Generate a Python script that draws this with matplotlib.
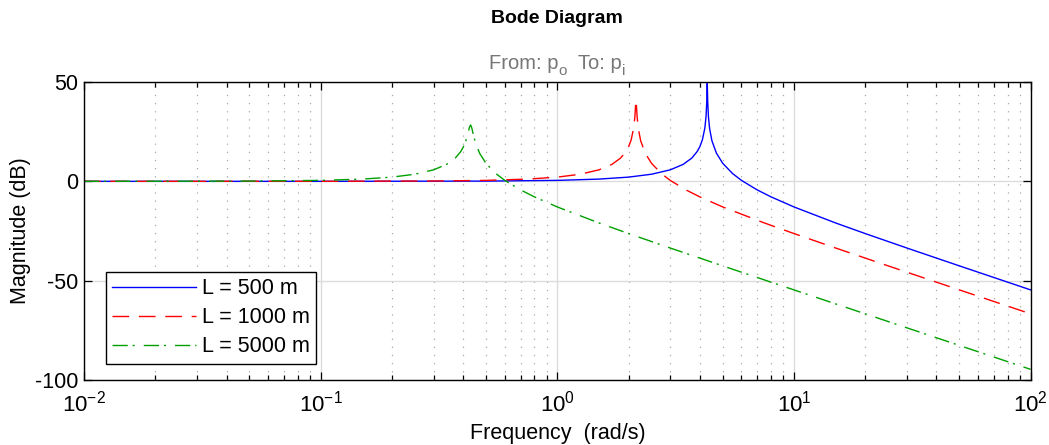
import matplotlib
matplotlib.use("Agg")
import matplotlib.pyplot as plt
from matplotlib.ticker import LogLocator, NullFormatter, FixedLocator

plt.rcParams['font.family'] = ['Liberation Sans', 'DejaVu Sans']
plt.rcParams['mathtext.fontset'] = 'custom'
plt.rcParams['mathtext.rm'] = 'Liberation Sans'
plt.rcParams['mathtext.it'] = 'Liberation Sans'
plt.rcParams['mathtext.default'] = 'regular'
plt.rcParams['axes.unicode_minus'] = False

# Magnitude response (dB) versus frequency (rad/s) for three pipe lengths
freq_500 = [0.01, 0.1, 0.5, 1, 1.5, 2, 2.5, 3, 3.4, 3.7, 3.9, 4.0, 4.1, 4.2, 4.25,
            4.28, 4.3, 4.32, 4.35, 4.4, 4.5, 4.7, 5, 5.5, 6, 7, 8, 10, 15, 20, 30,
            50, 70, 100]
mag_500 = [0.0, 0.0, 0.12, 0.48, 1.13, 2.12, 3.58, 5.79, 8.52, 11.71, 15.02, 17.41,
           20.83, 26.75, 32.63, 40.11, 49.37, 40.07, 32.53, 26.55, 20.43, 14.21,
           9.07, 3.93, 0.47, -4.35, -7.82, -12.89, -20.96, -26.29, -33.57, -42.56,
           -48.43, -54.65]

freq_1000 = [0.01, 0.1, 0.3, 0.5, 0.75, 1, 1.25, 1.5, 1.7, 1.85, 1.95, 2.0, 2.05,
             2.1, 2.125, 2.14, 2.15, 2.16, 2.175, 2.2, 2.25, 2.35, 2.5, 2.75, 3,
             3.5, 4, 5, 7.5, 10, 15, 25, 35, 50, 100]
mag_1000 = [0.0, 0.02, 0.17, 0.48, 1.13, 2.12, 3.58, 5.79, 8.52, 11.71, 15.02,
            17.40, 20.79, 26.59, 32.12, 37.79, 40.92, 37.72, 32.01, 26.38, 20.40,
            14.21, 9.07, 3.93, 0.47, -4.35, -7.82, -12.89, -20.96, -26.29, -33.57,
            -42.56, -48.43, -54.65, -66.70]

freq_5000 = [0.01, 0.05, 0.1, 0.15, 0.2, 0.25, 0.3, 0.34, 0.37, 0.39, 0.40, 0.41,
             0.42, 0.425, 0.43, 0.435, 0.44, 0.45, 0.47, 0.5, 0.55, 0.6, 0.7, 0.8,
             1, 1.5, 2, 3, 5, 7, 10, 20, 50, 100]
mag_5000 = [0.0, 0.12, 0.48, 1.13, 2.12, 3.58, 5.78, 8.50, 11.65, 14.86, 17.12,
            20.19, 24.57, 27.11, 28.40, 26.94, 24.29, 19.73, 14.02, 9.00, 3.90,
            0.47, -4.35, -7.82, -12.89, -20.96, -26.29, -33.57, -42.56, -48.43,
            -54.65, -66.70, -82.62, -94.66]

labels = ['L = 500 m', 'L = 1000 m', 'L = 5000 m']
y_ticks = [-100, -50, 0, 50]

FS = 15.5

fig = plt.figure(figsize=(10.49, 4.45), dpi=100)
ax = fig.add_axes([0.0801, 0.1461, 0.9024, 0.6696])

ax.semilogx(freq_500, mag_500, color='#0000ff', lw=1.0, label=labels[0])
ax.semilogx(freq_1000, mag_1000, color='#ff0000', lw=1.0, dashes=(12, 7),
            label=labels[1])
ax.semilogx(freq_5000, mag_5000, color='#00a000', lw=1.0,
            dashes=(11, 3.5, 1.5, 6.5), label=labels[2])

ax.set_xlim(1e-2, 1e2)
ax.set_ylim(-100, 50)
ax.yaxis.set_major_locator(FixedLocator(y_ticks))
ax.xaxis.set_major_locator(LogLocator(base=10, numticks=10))
ax.xaxis.set_minor_locator(LogLocator(base=10, subs=range(2, 10), numticks=100))
ax.xaxis.set_minor_formatter(NullFormatter())

# Grid: solid light lines at decades / y ticks, dotted at minor decades
ax.grid(True, which='major', color='#dcdcdc', lw=1.0, ls='-')
ax.grid(True, which='minor', axis='x', color='#a8a8a8', lw=0.9,
        ls=(0, (1, 5.5)))
ax.set_axisbelow(True)

ax.tick_params(which='both', direction='in', top=True, right=True,
               labelsize=FS, color='black', width=0.9)
ax.tick_params(which='major', length=6)
ax.tick_params(axis='x', which='major', pad=8, labelsize=16)
ax.tick_params(axis='y', which='major', pad=4)
ax.tick_params(which='minor', length=3.5)
for sp in ax.spines.values():
    sp.set_linewidth(1.0)
    sp.set_color('black')

ax.set_xlabel('Frequency  (rad/s)', fontsize=FS, labelpad=4)
ax.set_ylabel('Magnitude (dB)', fontsize=FS, labelpad=3)

leg = ax.legend(loc='lower left', bbox_to_anchor=(0.023, 0.054),
                borderaxespad=0, fontsize=FS, handlelength=3.9,
                handletextpad=0.25, labelspacing=0.38, borderpad=0.3,
                fancybox=False, framealpha=1.0, edgecolor='black')
leg.get_frame().set_linewidth(1.0)

fig.text(0.531, 0.958, 'Bode Diagram', ha='center', va='center',
         fontsize=14, fontweight='bold')

# Subtitle with lowered subscripts, built piece by piece
renderer = fig.canvas.get_renderer()
sub_color = '#777777'
pieces = [('From: p', 0, 14.5), ('o', -6, 11), ('  To: p', 0, 14.5), ('i', -6, 11)]
widths = []
for txt, dy, size in pieces:
    t = fig.text(0, 0, txt, fontsize=size)
    widths.append(t.get_window_extent(renderer).width)
    t.remove()
total = sum(widths)
x0 = 0.531 * fig.bbox.width - total / 2
base_y = 0.845 * fig.bbox.height
for (txt, dy, size), w in zip(pieces, widths):
    fig.text(x0 / fig.bbox.width, (base_y + dy) / fig.bbox.height, txt,
             fontsize=size, color=sub_color, ha='left', va='baseline')
    x0 += w

fig.savefig('out.png', dpi=100)
